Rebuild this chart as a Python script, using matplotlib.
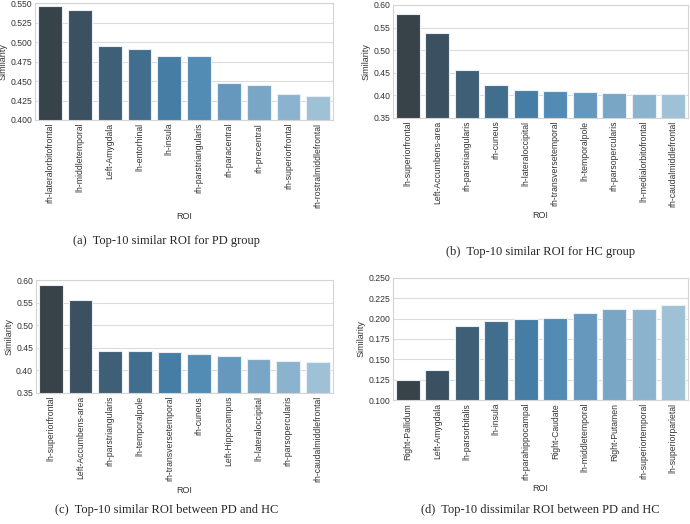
import matplotlib
matplotlib.use('Agg')
import matplotlib.pyplot as plt
import seaborn as sns

rois_a = ['rh-lateralorbitofrontal', 'lh-middletemporal', 'Left-Amygdala', 'lh-entorhinal', 'lh-insula',
          'rh-parstriangularis', 'rh-paracentral', 'rh-precentral', 'rh-superiorfrontal', 'rh-rostralmiddlefrontal']
sim_a = [0.546, 0.541, 0.495, 0.491, 0.482, 0.482, 0.447, 0.445, 0.433, 0.431]

rois_b = ['lh-superiorfrontal', 'Left-Accumbens-area', 'rh-parstriangularis', 'rh-cuneus', 'lh-lateraloccipital',
          'rh-transversetemporal', 'lh-temporalpole', 'rh-parsopercularis', 'lh-medialorbitofrontal',
          'rh-caudalmiddlefrontal']
sim_b = [0.579, 0.539, 0.457, 0.423, 0.411, 0.410, 0.407, 0.406, 0.403, 0.403]

rois_c = ['lh-superiorfrontal', 'Left-Accumbens-area', 'rh-parstriangularis', 'lh-temporalpole',
          'rh-transversetemporal', 'rh-cuneus', 'Left-Hippocampus', 'lh-lateraloccipital', 'rh-parsopercularis',
          'rh-caudalmiddlefrontal']
sim_c = [0.590, 0.556, 0.444, 0.442, 0.440, 0.437, 0.432, 0.426, 0.420, 0.418]

rois_d = ['Right-Pallidum', 'Left-Amygdala', 'lh-parsorbitalis', 'lh-insula', 'rh-parahippocampal',
          'Right-Caudate', 'lh-middletemporal', 'Right-Putamen', 'rh-superiortemporal', 'lh-superiorparietal']
sim_d = [0.125, 0.137, 0.191, 0.197, 0.199, 0.201, 0.207, 0.212, 0.212, 0.217]

captions = ['(a)  Top-10 similar ROI for PD group',
            '(b)  Top-10 similar ROI for HC group',
            '(c)  Top-10 similar ROI between PD and HC',
            '(d)  Top-10 dissimilar ROI between PD and HC']

sns.set_style('whitegrid')
plt.rcParams['font.family'] = ['Liberation Sans', 'DejaVu Sans']
plt.rcParams['axes.edgecolor'] = '#d4d4d4'
plt.rcParams['grid.color'] = '#dcdcdc'

fig = plt.figure(figsize=(6.9, 5.24), dpi=100)

panels = [
    (rois_a, sim_a, [0.051, 0.771, 0.432, 0.223], (0.40, 0.55), [0.400, 0.425, 0.450, 0.475, 0.500, 0.525, 0.550], '%.3f'),
    (rois_b, sim_b, [0.5696, 0.775, 0.4275, 0.2155], (0.35, 0.60), [0.35, 0.40, 0.45, 0.50, 0.55, 0.60], '%.2f'),
    (rois_c, sim_c, [0.052, 0.25, 0.430, 0.2156], (0.35, 0.60), [0.35, 0.40, 0.45, 0.50, 0.55, 0.60], '%.2f'),
    (rois_d, sim_d, [0.5696, 0.2366, 0.4275, 0.233], (0.10, 0.25), [0.100, 0.125, 0.150, 0.175, 0.200, 0.225, 0.250], '%.3f'),
]
cap_pos = [(0.242, 1 - 241 / 524), (0.783, 1 - 252 / 524), (0.242, 1 - 510 / 524), (0.783, 1 - 510 / 524)]

# barplot default saturation is 0.75
pal = [sns.desaturate(c, 0.75) for c in sns.color_palette('Blues_r_d', 10)]

for (rois, sims, rect, ylim, yticks, fmt), cap, cp in zip(panels, captions, cap_pos):
    ax = fig.add_axes(rect)
    ax.bar(range(len(rois)), sims, width=0.8, color=pal, edgecolor='#e8eef4', linewidth=0.8, zorder=2)
    ax.set_xlim(-0.5, len(rois) - 0.5)
    ax.set_ylim(*ylim)
    ax.set_yticks(yticks)
    ax.set_yticklabels([fmt % t for t in yticks])
    ax.set_xticks(range(len(rois)))
    ax.set_xticklabels(rois, rotation=90)
    ax.tick_params(axis='both', labelsize=6.2, colors='#333333', pad=2, length=0)
    ax.grid(axis='x', visible=False)
    ax.set_axisbelow(True)
    ax.set_xlabel('ROI', fontsize=6.5, color='#333333', labelpad=3)
    ax.set_ylabel('Similarity', fontsize=6.5, color='#333333', labelpad=2)
    for s in ax.spines.values():
        s.set_linewidth(0.8)
    fig.text(cp[0], cp[1], cap, ha='center', va='center', fontsize=9,
             family=['Liberation Serif', 'DejaVu Serif'])

fig.savefig('out.png', dpi=100)
